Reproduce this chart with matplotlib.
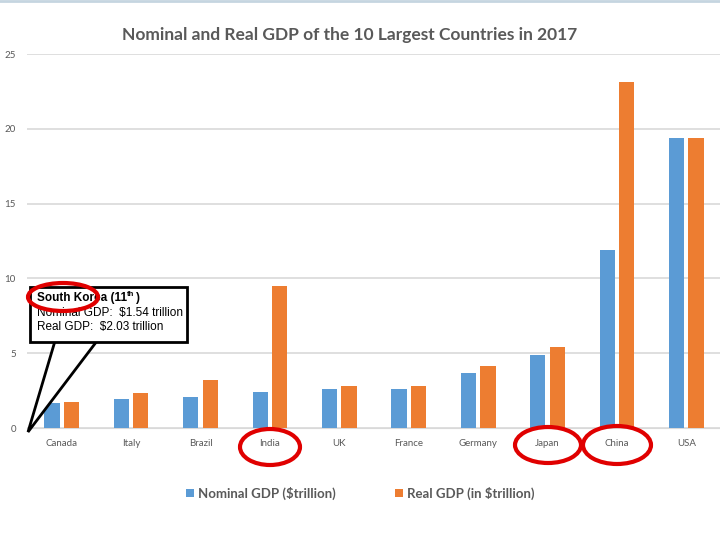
import matplotlib.pyplot as plt
from matplotlib.patches import Ellipse, Polygon, Rectangle

countries = ['Canada', 'Italy', 'Brazil', 'India', 'UK', 'France', 'Germany', 'Japan', 'China', 'USA']
nominal = [1.65, 1.93, 2.06, 2.44, 2.62, 2.58, 3.68, 4.87, 11.9, 19.39]
real = [1.76, 2.31, 3.24, 9.46, 2.81, 2.84, 4.17, 5.43, 23.16, 19.39]

blue = '#5b9bd5'
orange = '#ed7d31'
grey = '#595959'

plt.rcParams['font.family'] = ['Lato', 'DejaVu Sans']

fig = plt.figure(figsize=(7.2, 5.4), dpi=100)
ax = fig.add_axes([0.0375, 0.2074, 0.964, 0.6926])

x = list(range(len(countries)))
w = 0.22
ax.bar([i - w / 2 - 0.03 for i in x], nominal, w, color=blue, zorder=3, label='Nominal GDP ($trillion)')
ax.bar([i + w / 2 + 0.03 for i in x], real, w, color=orange, zorder=3, label='Real GDP (in $trillion)')

ax.set_xlim(-0.5, 9.5)
ax.set_ylim(0, 25)
ax.set_yticks([0, 5, 10, 15, 20, 25])
ax.set_xticks(x)
ax.set_xticklabels(countries)
ax.tick_params(length=0, labelsize=7, colors=grey, pad=8)
ax.tick_params(axis='y', pad=8)
ax.yaxis.grid(True, color='#d9d9d9', linewidth=1.2, zorder=0)
for s in ['top', 'right', 'left']:
    ax.spines[s].set_visible(False)
ax.spines['bottom'].set_color('#d9d9d9')

fig.text(0.486, 0.935, 'Nominal and Real GDP of the 10 Largest Countries in 2017',
         ha='center', va='center', fontsize=12.5, fontweight='bold', color=grey)

fig.legend(loc='center', bbox_to_anchor=(0.50, 0.087), ncol=2, frameon=False,
           prop={'size': 9.5, 'weight': 'bold'}, handlelength=0.6, handleheight=0.6,
           columnspacing=4.5, handletextpad=0.3, labelcolor=grey)

# top border line
fig.add_artist(plt.Line2D([0, 1], [0.998, 0.998], color='#c5d5e0', linewidth=2))

# callout box (pixel coords -> figure fraction)
W, H = 720.0, 540.0
def fx(px):
    return px / W
def fy(py):
    return 1 - py / H

pointer = Polygon([(fx(55), fy(341)), (fx(28), fy(432)), (fx(97), fy(341))],
                  closed=False, fill=True, facecolor='white', edgecolor='black',
                  linewidth=2, transform=fig.transFigure, zorder=5)
fig.add_artist(pointer)
box = Rectangle((fx(30), fy(342)), fx(187) - fx(30), fy(287) - fy(342),
                facecolor='white', edgecolor='black', linewidth=2,
                transform=fig.transFigure, zorder=6)
fig.add_artist(box)
fig.text(fx(37), fy(298), 'South Korea (11', fontsize=8.5, fontweight='bold',
         family='Liberation Sans', va='center', zorder=7)
fig.text(fx(127), fy(295), 'th', fontsize=5.5, fontweight='bold',
         family='Liberation Sans', va='center', zorder=7)
fig.text(fx(136), fy(298), ')', fontsize=8.5, fontweight='bold',
         family='Liberation Sans', va='center', zorder=7)
fig.text(fx(37), fy(313), 'Nominal GDP:  $1.54 trillion', fontsize=8.5,
         family='Liberation Sans', va='center', zorder=7)
fig.text(fx(37), fy(327), 'Real GDP:  $2.03 trillion', fontsize=8.5,
         family='Liberation Sans', va='center', zorder=7)

# red highlight ellipses
for cx, cy, ew, eh in [(63, 297, 70, 28), (270, 447, 60, 36), (548, 445, 66, 36), (617, 445, 68, 38)]:
    e = Ellipse((fx(cx), fy(cy)), ew / W, eh / H, fill=False, edgecolor='#e00000',
                linewidth=3, transform=fig.transFigure, zorder=8)
    fig.add_artist(e)

fig.savefig('out.png', dpi=100)
